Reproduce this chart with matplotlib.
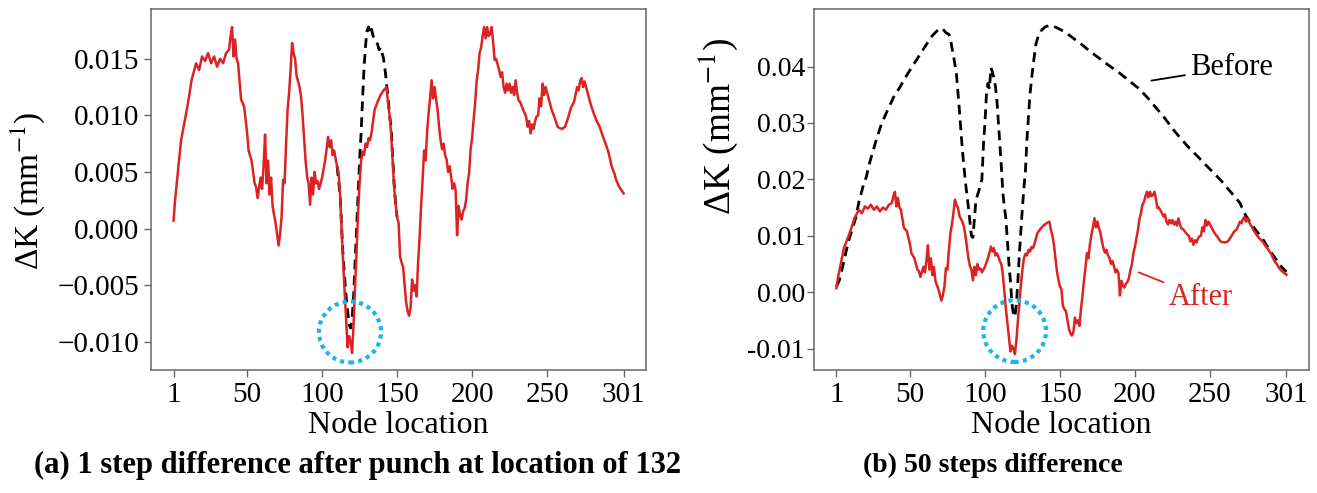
import numpy as np
import matplotlib
matplotlib.use("Agg")
import matplotlib.pyplot as plt
from matplotlib.patches import Ellipse
from matplotlib.ticker import FuncFormatter

plt.rcParams['font.family'] = ['Liberation Serif', 'DejaVu Serif']
plt.rcParams['mathtext.fontset'] = 'stix'

# curvature difference after correction (same in both panels)
after_nodes = [1, 2, 4, 6, 9, 11, 13, 16, 18, 20, 22, 24, 26, 28, 30, 32, 34, 36, 38, 39, 40, 41, 42, 43, 44,
               46, 48, 50, 51, 53, 55, 56, 57, 59, 60, 61, 62, 63, 64, 65, 66, 67, 68, 69, 71, 72, 73, 74, 75,
               76, 77, 78, 79, 80, 81, 82, 83, 84, 85, 86, 87, 88, 89, 90, 91, 92, 93, 94, 95, 96, 97, 98, 100,
               102, 103, 104, 105, 106, 107, 108, 109, 110, 111, 112, 113, 114, 115, 116, 117, 118, 119, 120,
               121, 122, 123, 124, 125, 126, 127, 128, 129, 130, 131, 132, 133, 135, 137, 139, 141, 143, 144,
               145, 146, 147, 148, 149, 150, 151, 152, 153, 154, 155, 156, 157, 158, 159, 160, 161, 162, 163,
               164, 165, 166, 167, 168, 169, 170, 171, 172, 173, 174, 175, 176, 177, 178, 179, 180, 181, 182,
               183, 184, 185, 186, 187, 188, 189, 190, 191, 192, 193, 194, 195, 196, 197, 198, 199, 200, 201,
               202, 203, 204, 205, 206, 207, 208, 209, 210, 211, 212, 213, 214, 215, 216, 218, 219, 220, 221,
               222, 223, 224, 225, 226, 227, 228, 229, 230, 231, 232, 234, 236, 237, 238, 239, 240, 241, 242,
               243, 244, 245, 246, 247, 248, 249, 250, 251, 253, 255, 257, 258, 260, 262, 264, 266, 268, 270,
               271, 272, 273, 274, 275, 276, 277, 279, 281, 283, 285, 287, 289, 291, 293, 295, 296, 297, 298,
               299, 301]
after_k = [0.0007, 0.0025, 0.0052, 0.0078, 0.0099, 0.0114, 0.0131, 0.0146, 0.0140, 0.0152, 0.0148, 0.0155,
           0.0146, 0.0152, 0.0143, 0.0150, 0.0146, 0.0155, 0.0158, 0.0170, 0.0178, 0.0152, 0.0167, 0.0150,
           0.0146, 0.0114, 0.0108, 0.0085, 0.0069, 0.0060, 0.0040, 0.0037, 0.0027, 0.0045, 0.0035, 0.0055,
           0.0083, 0.0040, 0.0060, 0.0030, 0.0045, 0.0020, 0.0012, 0.0005, -0.0015, -0.0005, 0.0010, 0.0043,
           0.0040, 0.0075, 0.0105, 0.0120, 0.0140, 0.0164, 0.0155, 0.0150, 0.0135, 0.0130, 0.0125, 0.0116,
           0.0100, 0.0080, 0.0060, 0.0046, 0.0040, 0.0021, 0.0045, 0.0030, 0.0050, 0.0040, 0.0042, 0.0035,
           0.0045, 0.0060, 0.0070, 0.0081, 0.0072, 0.0078, 0.0065, 0.0069, 0.0062, 0.0055, 0.0049, 0.0030,
           0.0000, -0.0030, -0.0055, -0.0080, -0.0105, -0.0095, -0.0100, -0.0110, -0.0085, -0.0050, -0.0020,
           0.0014, 0.0040, 0.0060, 0.0068, 0.0065, 0.0075, 0.0072, 0.0080, 0.0078, 0.0085, 0.0105, 0.0112,
           0.0118, 0.0122, 0.0125, 0.0110, 0.0100, 0.0084, 0.0060, 0.0037, 0.0022, 0.0010, 0.0005, -0.0025,
           -0.0030, -0.0034, -0.0050, -0.0065, -0.0073, -0.0077, -0.0070, -0.0045, -0.0055, -0.0050, -0.0060,
           -0.0030, -0.0008, 0.0020, 0.0043, 0.0069, 0.0060, 0.0085, 0.0102, 0.0115, 0.0131, 0.0115, 0.0125,
           0.0114, 0.0105, 0.0090, 0.0078, 0.0070, 0.0075, 0.0065, 0.0061, 0.0050, 0.0055, 0.0046, 0.0035,
           0.0040, 0.0034, -0.0006, 0.0020, 0.0012, 0.0008, 0.0015, 0.0018, 0.0025, 0.0040, 0.0049, 0.0070,
           0.0080, 0.0096, 0.0110, 0.0130, 0.0140, 0.0155, 0.0160, 0.0170, 0.0178, 0.0168, 0.0178, 0.0170,
           0.0172, 0.0178, 0.0165, 0.0149, 0.0150, 0.0140, 0.0134, 0.0138, 0.0125, 0.0120, 0.0128, 0.0122,
           0.0128, 0.0120, 0.0125, 0.0118, 0.0131, 0.0120, 0.0113, 0.0112, 0.0105, 0.0099, 0.0090, 0.0095,
           0.0084, 0.0092, 0.0088, 0.0095, 0.0099, 0.0100, 0.0115, 0.0108, 0.0128, 0.0118, 0.0125, 0.0120,
           0.0115, 0.0105, 0.0098, 0.0090, 0.0089, 0.0088, 0.0090, 0.0098, 0.0107, 0.0112, 0.0125, 0.0122,
           0.0130, 0.0133, 0.0125, 0.0130, 0.0125, 0.0120, 0.0110, 0.0102, 0.0095, 0.0090, 0.0082, 0.0075,
           0.0067, 0.0055, 0.0048, 0.0043, 0.0040, 0.0037, 0.0035, 0.0031]

# panel (a): before correction, only where it departs from the red curve
before_a_nodes = [110, 112, 114, 116, 118, 119, 120, 121, 122, 123, 124, 125, 126, 127, 128, 129, 130, 131,
                  132, 133, 134, 135, 136, 137, 138, 139, 140, 141, 142, 143, 144, 145, 146, 147, 148, 149, 150]
before_a = [0.0055, 0.0030, -0.0025, -0.0060, -0.0085, -0.0088, -0.0080, -0.0060, -0.0030, 0.0000, 0.0030,
            0.0060, 0.0084, 0.0115, 0.0143, 0.0162, 0.0175, 0.0178, 0.0172, 0.0176, 0.0170, 0.0168, 0.0165,
            0.0163, 0.0158, 0.0160, 0.0155, 0.0150, 0.0140, 0.0128, 0.0115, 0.0100, 0.0090, 0.0065, 0.0040,
            0.0022, 0.0010]

# panel (b): before correction
before_b_nodes = [1, 3, 6, 9, 12, 14, 16, 19, 21, 23, 27, 31, 35, 39, 43, 48, 54, 60, 65, 68, 70, 72, 74, 76,
                  77, 78, 79, 81, 83, 85, 87, 89, 91, 92, 93, 94, 96, 98, 99, 100, 101, 102, 103, 104, 105,
                  106, 107, 108, 109, 110, 111, 112, 113, 114, 115, 116, 117, 118, 119, 120, 121, 122, 123,
                  124, 125, 126, 127, 128, 129, 130, 131, 132, 134, 136, 138, 140, 143, 146, 150, 155, 160,
                  165, 170, 176, 182, 189, 196, 203, 209, 214, 220, 225, 230, 236, 242, 247, 253, 258, 263,
                  267, 270, 273, 276, 280, 285, 290, 295, 298, 301]
before_b = [0.0010, 0.0021, 0.0055, 0.0090, 0.0115, 0.0133, 0.0160, 0.0190, 0.0205, 0.0228, 0.0265, 0.0298,
            0.0322, 0.0345, 0.0362, 0.0385, 0.0410, 0.0435, 0.0455, 0.0463, 0.0468, 0.0466, 0.0460, 0.0457,
            0.0450, 0.0433, 0.0420, 0.0387, 0.0322, 0.0251, 0.0195, 0.0150, 0.0100, 0.0097, 0.0130, 0.0163,
            0.0180, 0.0200, 0.0260, 0.0300, 0.0350, 0.0370, 0.0360, 0.0398, 0.0390, 0.0380, 0.0365, 0.0339,
            0.0300, 0.0260, 0.0220, 0.0175, 0.0150, 0.0130, 0.0090, 0.0050, 0.0020, -0.0020, -0.0040, -0.0044,
            -0.0020, 0.0021, 0.0070, 0.0110, 0.0150, 0.0185, 0.0215, 0.0270, 0.0310, 0.0350, 0.0375, 0.0400,
            0.0440, 0.0458, 0.0465, 0.0470, 0.0473, 0.0471, 0.0466, 0.0458, 0.0448, 0.0438, 0.0427, 0.0415,
            0.0403, 0.0390, 0.0375, 0.0360, 0.0343, 0.0327, 0.0308, 0.0290, 0.0274, 0.0256, 0.0240, 0.0226,
            0.0210, 0.0196, 0.0180, 0.0168, 0.0158, 0.0140, 0.0127, 0.0112, 0.0095, 0.0073, 0.0055, 0.0044,
            0.0036]

x_ticks = [1, 50, 100, 150, 200, 250, 301]
y_ticks_a = [-0.010, -0.005, 0.000, 0.005, 0.010, 0.015]
y_ticks_b = [-0.01, 0.00, 0.01, 0.02, 0.03, 0.04]
captions = ['(a) 1 step difference after punch at location of 132', '(b) 50 steps difference']

RED = '#dc2323'
CYAN = '#1cb4ee'
GREY = '#666666'
DASH = (0, (3.5, 2.2))
DOTS = (0, (1, 1))

fig = plt.figure(figsize=(13.17, 4.93), dpi=100)
ax_a = fig.add_axes([0.1147, 0.2495, 0.3759, 0.7323])
ax_b = fig.add_axes([0.618, 0.2495, 0.3759, 0.7323])

ax_a.plot(before_a_nodes, before_a, color='black', ls=DASH, lw=2.0, zorder=2)
ax_a.plot(after_nodes, after_k, color=RED, lw=1.8, zorder=3)
ax_a.add_patch(Ellipse((118.6, -0.00914), 41.4, 0.00539, fill=False, ec=CYAN, lw=3, ls=DOTS, zorder=4))
ax_a.set_ylim(-0.0125, 0.0194)
ax_a.set_yticks(y_ticks_a)
ax_a.yaxis.set_major_formatter(FuncFormatter(lambda v, p: ('%.3f' % v).replace('-', '\u2212')))
ax_a.tick_params(axis='y', labelsize=21)

ax_b.plot(before_b_nodes, before_b, color='black', ls=DASH, lw=2.0, zorder=2)
ax_b.plot(after_nodes, after_k, color=RED, lw=1.8, zorder=3)
ax_b.add_patch(Ellipse((119.8, -0.0069), 41.9, 0.01095, fill=False, ec=CYAN, lw=3, ls=DOTS, zorder=4))
ax_b.set_ylim(-0.0138, 0.0502)
ax_b.set_yticks(y_ticks_b)
ax_b.yaxis.set_major_formatter(FuncFormatter(lambda v, p: '%.2f' % v))
ax_b.tick_params(axis='y', labelsize=20, pad=1.5)

ax_b.annotate('Before', xy=(211, 0.0375), xytext=(237, 0.0398), fontsize=22, va='center', ha='left',
              arrowprops=dict(arrowstyle='-', color='black', lw=1.3, shrinkA=2, shrinkB=0))
ax_b.annotate('After', xy=(202.6, 0.0035), xytext=(222.6, -0.0009), fontsize=22, color=RED,
              va='center', ha='left',
              arrowprops=dict(arrowstyle='-', color=RED, lw=1.3, shrinkA=2, shrinkB=0))

for ax in (ax_a, ax_b):
    ax.set_xlim(-14, 316)
    ax.set_xticks(x_ticks)
    ax.tick_params(axis='x', labelsize=21)
    ax.tick_params(colors=GREY, labelcolor='black', length=5, width=1)
    for s in ax.spines.values():
        s.set_color(GREY)
        s.set_linewidth(1.1)
    ax.set_xlabel('Node location', fontsize=23, labelpad=2)

ax_a.set_ylabel('ΔK (mm$^{-1}$)', fontsize=24)
ax_a.yaxis.set_label_coords(-0.210, 0.496)
ax_b.set_ylabel('ΔK (mm$^{-1}$)', fontsize=27)
ax_b.yaxis.set_label_coords(-0.149, 0.676)

fig.text(358 / 1317, 1 - 465 / 493, captions[0], fontsize=22, fontweight='bold', ha='center', va='center')
fig.text(993 / 1317, 1 - 465 / 493, captions[1], fontsize=20, fontweight='bold', ha='center', va='center')

fig.savefig('out.png', dpi=100)
